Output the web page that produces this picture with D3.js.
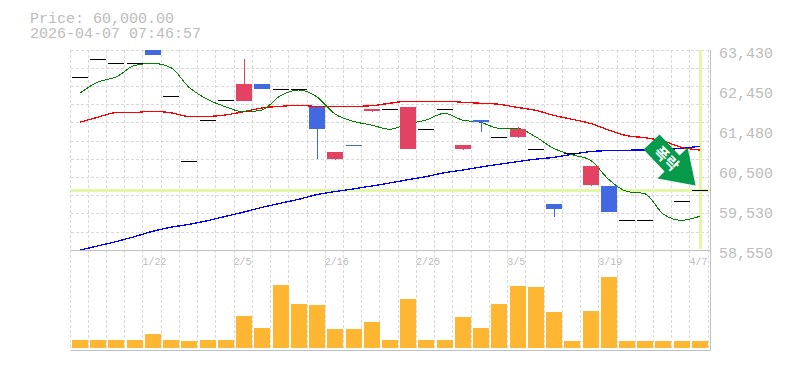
<!DOCTYPE html>
<html>
<head>
<meta charset="utf-8">
<script src="https://cdnjs.cloudflare.com/ajax/libs/d3/7.8.5/d3.min.js"></script>
<style>
html, body { margin: 0; padding: 0; background: #fff; }
svg { display: block; }
text { font-family: "Liberation Mono", monospace; fill: #bcbcbc; }
</style>
</head>
<body>
<div id="container"></div>
<script>
var tickIndex = [4, 9, 14, 19, 24, 29, 34];
var tickLabels = ['1/22', '2/5', '2/16', '2/25', '3/5', '3/19', '4/7'];
var priceTicks = [63430, 62450, 61480, 60500, 59530, 58550];
var currentPrice = 60000;
var titleLines = ['Price: 60,000.00', '2026-04-07 07:46:57'];

var opens = [62760, 63200, 63100, 63100, 63430, 62300, 60710, 61710, 62200, 62190, 62600, 62470, 62470, 62020, 60750, 61110, 61920, 61980, 60990, 61490, 61980, 61010, 61720, 61300, 61280, 61010, 59670, 60910, 60110, 60110, 59270, 59270, 58550, 59740, 60000];
var highs = [62760, 63200, 63100, 63100, 63430, 62300, 60710, 61710, 62200, 63210, 62600, 62470, 62470, 62020, 60940, 61110, 61970, 61980, 62020, 61490, 61980, 61110, 61720, 61300, 61540, 61010, 59670, 60910, 60580, 60110, 59270, 59270, 58550, 59740, 60000];
var lows = [62760, 63200, 63100, 63100, 63310, 62300, 60710, 61710, 62200, 62190, 62480, 62470, 62470, 60750, 60750, 61100, 61900, 61980, 60990, 61490, 61980, 61000, 61430, 61300, 61280, 61010, 59360, 60910, 60090, 59480, 59270, 59270, 58550, 59740, 60000];
var closes = [62760, 63200, 63100, 63100, 63310, 62300, 60710, 61710, 62200, 62600, 62480, 62470, 62470, 61480, 60920, 61100, 61970, 61980, 62020, 61490, 61980, 61110, 61670, 61300, 61480, 61010, 59550, 60910, 60580, 59480, 59270, 59270, 58550, 59740, 60000];

var ma5 = [62370, 62650, 62770, 63050, 63105, 63000, 62520, 62230, 62045, 61920, 61965, 62310, 62455, 62290, 61870, 61690, 61600, 61495, 61625, 61720, 61885, 61720, 61665, 61520, 61520, 61315, 61030, 60875, 60745, 60280, 59980, 59925, 59430, 59275, 59370];
var ma20 = [61665, 61790, 61900, 61905, 61935, 61900, 61810, 61810, 61845, 61925, 62015, 62055, 62080, 62055, 62055, 62055, 62070, 62130, 62180, 62180, 62180, 62155, 62130, 62105, 62030, 61960, 61835, 61740, 61640, 61480, 61340, 61290, 61210, 61055, 60990];
var ma60 = [58545, 58650, 58755, 58875, 59005, 59105, 59175, 59265, 59370, 59475, 59590, 59690, 59785, 59900, 59975, 60040, 60110, 60185, 60265, 60340, 60435, 60500, 60575, 60640, 60705, 60765, 60810, 60885, 60950, 60975, 60985, 60990, 61000, 61030, 61080];

var volumes = [8, 8, 8, 8, 14, 8, 7, 8, 8, 32, 20, 63, 44, 43, 19, 19, 26, 8, 49, 8, 8, 31, 20, 44, 62, 61, 36, 7, 37, 71, 7, 7, 7, 7, 7];

var width = 785,
    height = 370,
    left = 70.5,
    right = 708.7,
    priceTop = 50,
    priceBottom = 250,
    volumeTop = 277,
    volumeBottom = 348,
    axisBottom = 350,
    gridColor = '#d9d9d9',
    axisColor = '#c0c0c0',
    hiliteColor = '#e3f5a6',
    upColor = '#e34262',
    downColor = '#4169e1',
    svg;

var indexes = d3.range(opens.length);

var x = d3.scaleBand().domain(indexes).range([left, right]);
var y = d3.scaleLinear().domain([priceTicks[priceTicks.length - 1], priceTicks[0]]).range([priceBottom, priceTop]);
var yVolume = d3.scaleLinear().domain([0, d3.max(volumes)]).range([volumeBottom, volumeTop]);

function center(i) {
    return x(i) + x.bandwidth() / 2;
}

function barLeft(i) {
    return Math.round(x(i) + 1.5);
}

function createSvg() {
    svg = d3.select('#container')
        .append('svg')
        .attr('width', width)
        .attr('height', height);
}

function renderGrid() {
    var grid = svg.append('g')
        .attr('stroke', gridColor)
        .attr('stroke-dasharray', '3,2')
        .attr('shape-rendering', 'crispEdges');
    // 11 rows in the price pane, one column per bar
    d3.range(11).forEach(function (i) {
        var gy = Math.floor(priceTop + 0.2 + i * (priceBottom - priceTop) / 11) + 0.5;
        grid.append('line').attr('x1', left).attr('x2', 709).attr('y1', gy).attr('y2', gy);
    });
    indexes.concat([indexes.length]).forEach(function (i) {
        var gx = Math.floor(left - 0.5 + i * x.bandwidth()) + 0.5;
        grid.append('line').attr('x1', gx).attr('x2', gx).attr('y1', priceTop).attr('y2', axisBottom);
    });
}

function renderAxes() {
    var xAxis = d3.axisBottom(x)
        .tickValues(tickIndex)
        .tickSize(0)
        .tickFormat(function (d) { return tickLabels[tickIndex.indexOf(d)]; });
    var xg = svg.append('g')
        .attr('transform', 'translate(0,' + priceBottom + ')')
        .call(xAxis);
    xg.select('.domain').remove();
    xg.selectAll('text')
        .attr('x', -x.bandwidth() / 2 - 1)
        .attr('y', 8)
        .attr('text-anchor', 'start')
        .style('font-size', '10px');

    var yAxis = d3.axisRight(y)
        .tickValues(priceTicks)
        .tickSize(0)
        .tickFormat(d3.format(','));
    var yg = svg.append('g')
        .attr('transform', 'translate(709,0)')
        .call(yAxis);
    yg.select('.domain').remove();
    yg.selectAll('text')
        .attr('x', 10)
        .attr('dy', '0.52em')
        .style('font-size', '15px');

    var frame = svg.append('g')
        .attr('stroke', axisColor)
        .attr('shape-rendering', 'crispEdges');
    frame.append('line').attr('x1', left).attr('x2', 711).attr('y1', 250.5).attr('y2', 250.5);
    frame.append('line').attr('x1', left).attr('x2', 711).attr('y1', 350.5).attr('y2', 350.5);
    frame.append('line').attr('x1', 710.5).attr('x2', 710.5).attr('y1', priceTop).attr('y2', axisBottom + 1);
}

function renderHilite() {
    var last = indexes[indexes.length - 1];
    svg.append('rect')
        .attr('x', left)
        .attr('y', Math.floor(y(currentPrice)) - 1)
        .attr('width', 710 - left)
        .attr('height', 3)
        .attr('fill', hiliteColor);
    svg.append('rect')
        .attr('x', barLeft(last) + 7)
        .attr('y', priceTop)
        .attr('width', 3)
        .attr('height', priceBottom - priceTop - 1)
        .attr('fill', hiliteColor);
}

function renderLine(values, color, thickness) {
    var line = d3.line()
        .x(function (d, i) { return center(i); })
        .y(function (d) { return y(d); })
        .curve(d3.curveMonotoneX);
    svg.append('path')
        .datum(values)
        .attr('fill', 'none')
        .attr('stroke', color)
        .attr('stroke-width', thickness)
        .attr('shape-rendering', 'crispEdges')
        .attr('d', line);
}

function candleColor(i) {
    if (closes[i] > opens[i]) return upColor;
    if (closes[i] < opens[i]) return downColor;
    return '#000';
}

function renderCandles() {
    var g = svg.append('g').attr('shape-rendering', 'crispEdges');
    g.selectAll('.wick')
        .data(indexes)
        .join('rect')
        .attr('class', 'wick')
        .attr('x', function (i) { return barLeft(i) + 8; })
        .attr('y', function (i) { return Math.floor(y(highs[i])); })
        .attr('width', 1)
        .attr('height', function (i) { return Math.max(1, Math.round(y(lows[i]) - y(highs[i]))); })
        .attr('fill', candleColor);
    g.selectAll('.body')
        .data(indexes)
        .join('rect')
        .attr('class', 'body')
        .attr('x', barLeft)
        .attr('y', function (i) { return Math.floor(y(Math.max(opens[i], closes[i]))); })
        .attr('width', 16)
        .attr('height', function (i) { return Math.max(1, Math.round(Math.abs(y(opens[i]) - y(closes[i])))); })
        .attr('fill', candleColor);
}

function renderVolumes() {
    svg.append('g')
        .attr('shape-rendering', 'crispEdges')
        .selectAll('rect')
        .data(volumes)
        .join('rect')
        .attr('x', function (d, i) { return barLeft(i); })
        .attr('y', function (d) { return yVolume(d); })
        .attr('width', 16)
        .attr('height', function (d) { return volumeBottom - yVolume(d); })
        .attr('fill', '#ffb733');
}

function renderArrow() {
    // outline is relative to the tip, which sits just above the current price on the last bar
    var tipX = center(indexes[indexes.length - 1]) - 4,
        tipY = y(currentPrice) - 5;
    var outline = [[-36, -51], [-16, -30], [-8, -38], [0, 0], [-38, -7], [-31, -14], [-52, -36]];
    var g = svg.append('g').attr('transform', 'translate(' + tipX + ',' + tipY + ')');
    g.append('polygon')
        .attr('points', outline.join(' '))
        .attr('fill', '#069a4a');
    g.append('text')
        .attr('transform', 'translate(-29,-27) rotate(45)')
        .attr('text-anchor', 'middle')
        .attr('dy', '0.36em')
        .style('font-family', '"Noto Sans CJK KR"')
        .style('font-size', '15px')
        .style('font-weight', 'bold')
        .style('fill', '#fff')
        .text('폭락');
}

function renderTitle() {
    svg.selectAll('.title')
        .data(titleLines)
        .join('text')
        .attr('class', 'title')
        .attr('x', 30)
        .attr('y', function (d, i) { return 23 + i * 15; })
        .style('font-size', '15px')
        .text(function (d) { return d; });
}

createSvg();
renderGrid();
renderHilite();
renderLine(ma60, '#0000ff', 1.3);
renderLine(ma20, '#ff0000', 1.3);
renderLine(ma5, '#008000', 1);
renderVolumes();
renderCandles();
renderAxes();
renderArrow();
renderTitle();
</script>
</body>
</html>
